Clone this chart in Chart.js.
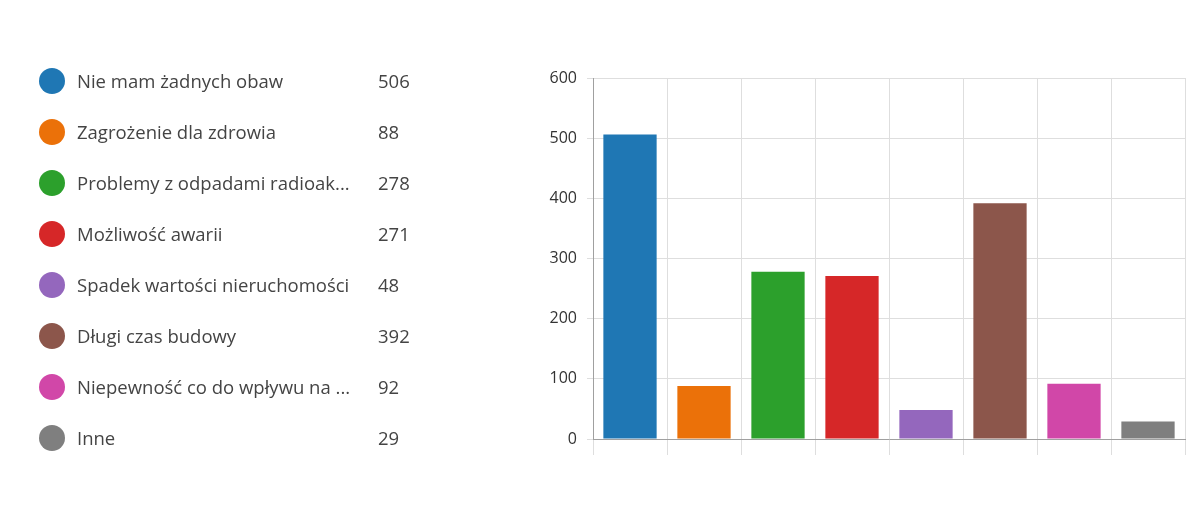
<!DOCTYPE html>
<html><head><meta charset="utf-8">
<script src="https://cdn.jsdelivr.net/npm/chart.js@4/dist/chart.umd.min.js"></script>
<style>
html,body{margin:0;padding:0;background:#fff;width:1200px;height:505px;overflow:hidden;}
#wrap{position:relative;width:1200px;height:505px;}
#c{position:absolute;left:0;top:0;}
#legend{position:absolute;left:0;top:0;font-family:"Open Sans","Noto Sans",sans-serif;font-size:18.5px;color:#444;}
.item{position:absolute;left:39px;height:26px;width:400px;}
.dot{position:absolute;left:0;top:0;width:26px;height:26px;border-radius:50%;}
.lab{position:absolute;left:38px;top:0;line-height:26px;white-space:nowrap;}
.val{position:absolute;left:339px;top:0;line-height:26px;}
</style></head>
<body><div id="wrap"><canvas id="c" width="1200" height="505"></canvas><div id="legend"></div></div>
<script>
const categories = ["Nie mam żadnych obaw","Zagrożenie dla zdrowia","Problemy z odpadami radioak...","Możliwość awarii","Spadek wartości nieruchomości","Długi czas budowy","Niepewność co do wpływu na ...","Inne"];
const values = [506, 88, 278, 271, 48, 392, 92, 29];
const colors = ["#1f77b4","#eb7109","#2ca02c","#d62728","#9467bd","#8c564b","#d147a8","#7f7f7f"];
const yTicks = [0,100,200,300,400,500,600];

const leg = document.getElementById('legend');
categories.forEach((c,i)=>{
  const d = document.createElement('div'); d.className='item'; d.style.top=(68+i*51)+'px';
  d.innerHTML = '<div class="dot" style="background:'+colors[i]+'"></div><div class="lab"></div><div class="val"></div>';
  d.querySelector('.lab').textContent = c;
  d.querySelector('.val').textContent = values[i];
  leg.appendChild(d);
});

new Chart(document.getElementById('c'), {
  type:'bar',
  data:{labels:categories, datasets:[{data:values, backgroundColor:colors, borderWidth:0, barPercentage:0.72, categoryPercentage:1}]},
  options:{
    responsive:false, animation:false,
    layout:{padding:{left:530,right:15,top:78,bottom:50}},
    plugins:{legend:{display:false},tooltip:{enabled:false}},
    scales:{
      x:{grid:{color:ctx=>ctx.index===categories.length?'rgba(0,0,0,0)':'#dedede',tickLength:16,lineWidth:1},
         border:{color:'#a0a0a0'},
         ticks:{display:false},
         afterFit:s=>{s.height=16;}},
      y:{min:0,max:600,
         afterBuildTicks:s=>{s.ticks=yTicks.map(v=>({value:v}));},
         grid:{color:'#dedede',tickLength:6},
         border:{color:'#a0a0a0'},
         ticks:{font:{family:'"Open Sans","Noto Sans",sans-serif',size:16},color:'#333',padding:10},
         afterFit:s=>{s.width=63;}}
    }
  }
});
</script></body></html>
